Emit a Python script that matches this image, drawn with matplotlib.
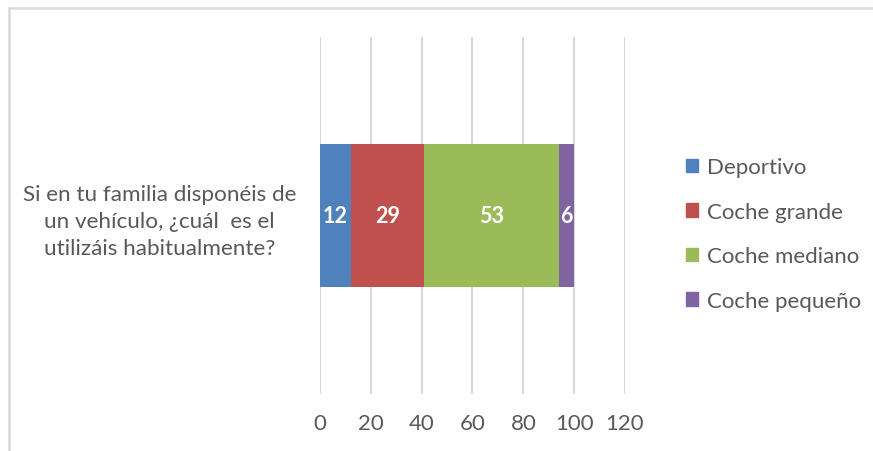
import matplotlib.pyplot as plt
from matplotlib.patches import Rectangle, Patch

# data
question = "Si en tu familia disponéis de\nun vehículo, ¿cuál  es el\nutilizáis habitualmente?"
series = ["Deportivo", "Coche grande", "Coche mediano", "Coche pequeño"]
values = [12, 29, 53, 6]
colors = ["#4F81BD", "#C0504D", "#9BBB59", "#8064A2"]
xticks = [0, 20, 40, 60, 80, 100, 120]

plt.rcParams['font.family'] = ['Lato', 'DejaVu Sans']
txt = "#595959"

fig = plt.figure(figsize=(8.73, 4.52), dpi=100)
# light border round the chart area (only top and left edges fall inside the picture)
fig.patches.append(Rectangle((9/873, -0.05), 1.1, 1 - 9/452 + 0.05, transform=fig.transFigure,
                             fill=False, edgecolor="#D9D9D9", linewidth=1.8))

ax = fig.add_axes([320/873, 1 - 395/452, 305/873, 357/452])

left = 0
for name, v, c in zip(series, values, colors):
    ax.barh(0, v, left=left, height=0.4, color=c, label=name, zorder=3)
    ax.text(left + v / 2, 0, str(v), ha="center", va="center", color="white",
            fontsize=15.5, fontweight="bold", zorder=4)
    left += v

ax.set_xlim(0, 120)
ax.set_ylim(-0.5, 0.5)
ax.set_xticks(xticks)
ax.set_xticklabels([str(t) for t in xticks], fontsize=16, color=txt)
ax.set_yticks([0])
ax.set_yticklabels([question], fontsize=16.2, color=txt, multialignment="center", linespacing=1.42)
ax.tick_params(length=0)
ax.tick_params(axis="x", pad=14)
ax.tick_params(axis="y", pad=17)
ax.grid(axis="x", color="#D9D9D9", linewidth=1.5, zorder=0)
for s in ax.spines.values():
    s.set_visible(False)

handles = [Patch(color=c, label=n) for n, c in zip(series, colors)]
leg = fig.legend(handles=handles, loc="center left", bbox_to_anchor=(686/873, 1 - 235/452),
                 frameon=False, fontsize=16, handlelength=0.55, handleheight=0.55,
                 handletextpad=0.4, labelspacing=1.1, borderpad=0, borderaxespad=0)
for t in leg.get_texts():
    t.set_color(txt)

fig.savefig("out.png", dpi=100)
